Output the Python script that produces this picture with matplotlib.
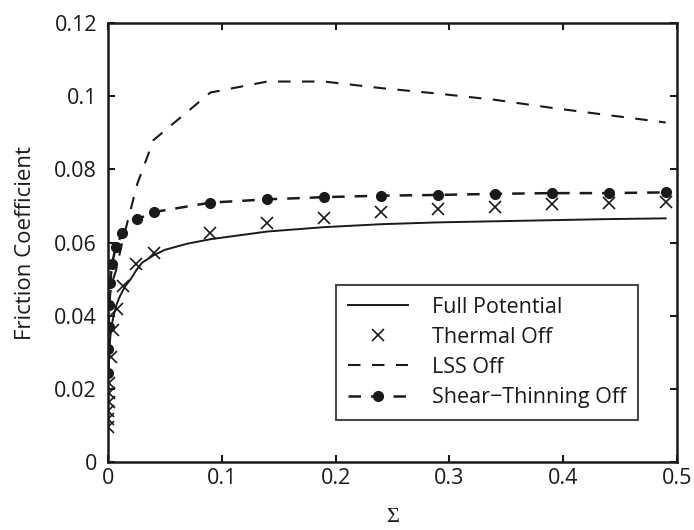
"""Friction coefficient vs Sigma, four model variants."""
import matplotlib
matplotlib.use("Agg")
import matplotlib.pyplot as plt
from matplotlib.ticker import FuncFormatter

# --- data ---
full_x = [0.0005, 0.001, 0.002, 0.003, 0.005, 0.0075, 0.01, 0.015, 0.02, 0.025,
          0.03, 0.04, 0.05, 0.07, 0.09, 0.14, 0.19, 0.24, 0.29, 0.34, 0.39, 0.44, 0.49]
full_y = [0.024, 0.029, 0.034, 0.037, 0.040, 0.043, 0.045, 0.048, 0.050, 0.0525,
          0.0545, 0.0565, 0.058, 0.0597, 0.0609, 0.0630, 0.0642, 0.0650, 0.0655,
          0.0658, 0.0661, 0.0664, 0.0666]

thermal_x = [0.0001, 0.0002, 0.0003, 0.0005, 0.0008, 0.0012, 0.0026, 0.0047, 0.0076,
             0.0134, 0.025, 0.04, 0.09, 0.14, 0.19, 0.24, 0.29, 0.34, 0.39, 0.44, 0.49]
thermal_y = [0.0095, 0.0118, 0.0140, 0.0165, 0.0188, 0.0215, 0.0288, 0.0361, 0.0417,
             0.0481, 0.0540, 0.0572, 0.0627, 0.0653, 0.0668, 0.0683, 0.0691, 0.0698,
             0.0704, 0.0709, 0.0712]

sweep_x = [0.0001, 0.0003, 0.0006, 0.001, 0.002, 0.0035, 0.0067, 0.0125, 0.0257, 0.04,
           0.09, 0.14, 0.19, 0.24, 0.29, 0.34, 0.39, 0.44, 0.49]
lss_y = [0.024, 0.031, 0.037, 0.042, 0.046, 0.049, 0.052, 0.060, 0.076, 0.088,
         0.101, 0.104, 0.104, 0.1022, 0.1007, 0.0990, 0.0968, 0.0948, 0.0928]
shear_y = [0.0242, 0.0308, 0.037, 0.0429, 0.049, 0.054, 0.0587, 0.0625, 0.0663, 0.0683,
           0.0709, 0.0718, 0.0724, 0.0728, 0.0730, 0.0733, 0.0735, 0.0735, 0.0737]

labels = ["Full Potential", "Thermal Off", "LSS Off", "Shear\u2212Thinning Off"]

ink = "#1a1a1a"
plt.rcParams["font.family"] = ["Open Sans", "DejaVu Sans"]

fig = plt.figure(figsize=(6.94, 5.30), dpi=100)
ax = fig.add_axes([0.1556, 0.1283, 0.82, 0.8283])

ax.plot(full_x, full_y, color=ink, lw=1.4, label=labels[0])
ax.plot(thermal_x, thermal_y, ls="none", marker="x", ms=8.5, mew=1.2, color=ink,
        label=labels[1])
ax.plot(sweep_x, lss_y, color=ink, lw=1.5, dashes=(6, 5.5), label=labels[2])
ax.plot(sweep_x, shear_y, color=ink, lw=1.8, dashes=(5, 4), marker="o", ms=7,
        label=labels[3])

ax.set_xlim(0, 0.5)
ax.set_ylim(0, 0.12)
ax.set_xticks([0, 0.1, 0.2, 0.3, 0.4, 0.5])
ax.set_yticks([0, 0.02, 0.04, 0.06, 0.08, 0.1, 0.12])
fmt = FuncFormatter(lambda v, _: f"{v:g}")
ax.xaxis.set_major_formatter(fmt)
ax.yaxis.set_major_formatter(fmt)
ax.tick_params(direction="in", top=True, right=True, length=5, width=1.5,
               labelsize=15.5, colors=ink)
ax.tick_params(axis="x", pad=4)
ax.tick_params(axis="y", pad=8)
for s in ax.spines.values():
    s.set_linewidth(1.8)
    s.set_color(ink)

ax.set_ylabel("Friction Coefficient", fontsize=16, color=ink, labelpad=13)
ax.set_xlabel("\u03a3", fontsize=16, color=ink, family=["Liberation Serif"], labelpad=14)

leg = ax.legend(loc="upper right", bbox_to_anchor=(0.931, 0.403), fontsize=15.5,
                frameon=True, fancybox=False, edgecolor=ink, handlelength=2.8,
                handletextpad=1.1, borderpad=0.55, labelspacing=0.42, borderaxespad=0)
leg.get_frame().set_linewidth(1.5)
for t in leg.get_texts():
    t.set_color(ink)

fig.savefig("out.png", dpi=100)
